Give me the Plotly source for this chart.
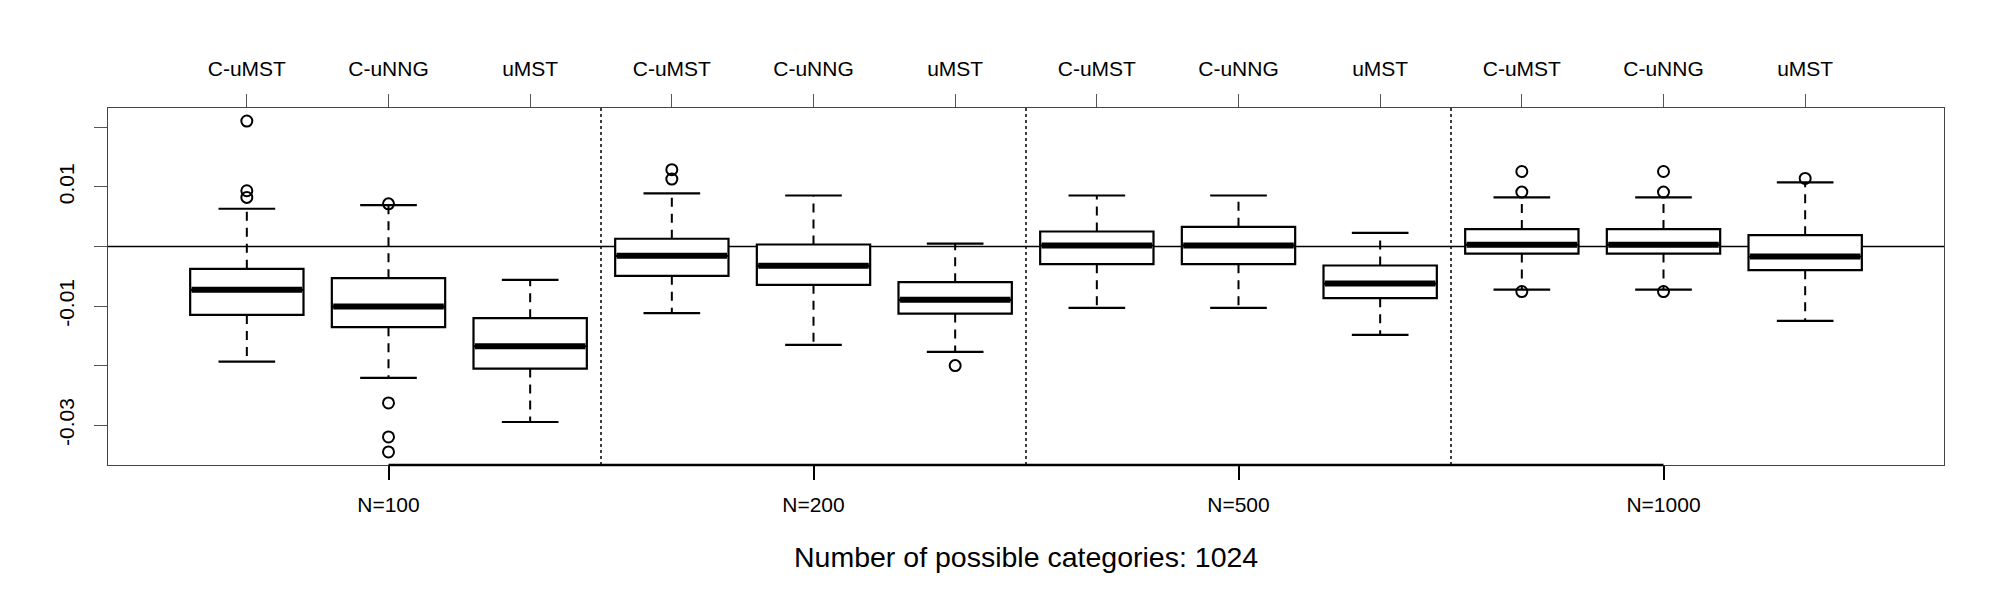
import plotly.graph_objects as go

# ---- data ----
methods = ["C-uMST", "C-uNNG", "uMST"] * 4
groups = ["N=100", "N=200", "N=500", "N=1000"]
positions = list(range(1, 13))
group_centers = [2, 5, 8, 11]
separators = [3.5, 6.5, 9.5]

lower_whisker = [-0.01933, -0.02207, -0.02947,
                 -0.01120, -0.01652, -0.01770,
                 -0.01030, -0.01030, -0.01484,
                 -0.00723, -0.00723, -0.01249]
q1 = [-0.01148, -0.01355, -0.02050,
      -0.00492, -0.00644, -0.01126,
      -0.00297, -0.00297, -0.00868,
      -0.00118, -0.00118, -0.00397]
median = [-0.00728, -0.01008, -0.01675,
          -0.00156, -0.00324, -0.00896,
          0.00017, 0.00017, -0.00622,
          0.00030, 0.00030, -0.00168]
q3 = [-0.00375, -0.00532, -0.01204,
      0.00130, 0.00034, -0.00599,
      0.00252, 0.00331, -0.00319,
      0.00292, 0.00292, 0.00191]
upper_whisker = [0.00634, 0.00695, -0.00560,
                 0.00891, 0.00857, 0.00050,
                 0.00857, 0.00857, 0.00230,
                 0.00826, 0.00826, 0.01076]
outliers = [[0.02107, 0.00936, 0.00824],
            [0.00717, -0.02627, -0.03198, -0.03450],
            [],
            [0.01290, 0.01133],
            [],
            [-0.02000],
            [],
            [],
            [],
            [0.01260, 0.00914, -0.00756],
            [0.01260, 0.00914, -0.00756],
            [0.01143]]

y_ticks = [-0.03, -0.02, -0.01, 0.0, 0.01, 0.02]
y_ticktext = ["-0.03", "", "-0.01", "", "0.01", ""]
title_text = "Number of possible categories: 1024"

# ---- styling ----
FONT = "Liberation Sans, Arial, sans-serif"
BOXW = 0.8
STAPLE = BOXW / 4
XR = [0.02, 12.98]
YR = [-0.03669, 0.02326]

fig = go.Figure()

# whiskers (dashed)
wx, wy = [], []
for p, lo, a, b, hi in zip(positions, lower_whisker, q1, q3, upper_whisker):
    wx += [p, p, None, p, p, None]
    wy += [b, hi, None, a, lo, None]
fig.add_trace(go.Scatter(x=wx, y=wy, mode="lines",
                         line=dict(color="black", width=2, dash="9px,7px"),
                         hoverinfo="skip", showlegend=False))
# staples
sx, sy = [], []
for p, lo, hi in zip(positions, lower_whisker, upper_whisker):
    sx += [p - STAPLE, p + STAPLE, None, p - STAPLE, p + STAPLE, None]
    sy += [hi, hi, None, lo, lo, None]
fig.add_trace(go.Scatter(x=sx, y=sy, mode="lines",
                         line=dict(color="black", width=2.2),
                         hoverinfo="skip", showlegend=False))

# boxes
fig.add_trace(go.Box(x=positions, q1=q1, median=median, q3=q3,
                     lowerfence=q1, upperfence=q3, width=BOXW,
                     fillcolor="white", line=dict(color="black", width=2.2),
                     boxpoints=False, showlegend=False, hoverinfo="skip"))

# thick medians
mx, my = [], []
for p, m in zip(positions, median):
    mx += [p - BOXW / 2 + 0.01, p + BOXW / 2 - 0.01, None]
    my += [m, m, None]
fig.add_trace(go.Scatter(x=mx, y=my, mode="lines",
                         line=dict(color="black", width=6),
                         hoverinfo="skip", showlegend=False))

# outliers
ox, oy = [], []
for p, outs in zip(positions, outliers):
    for v in outs:
        ox.append(p)
        oy.append(v)
fig.add_trace(go.Scatter(x=ox, y=oy, mode="markers",
                         marker=dict(symbol="circle-open", size=11, color="black",
                                     line=dict(width=2, color="black")),
                         hoverinfo="skip", showlegend=False))

# invisible trace to anchor top axis
fig.add_trace(go.Scatter(x=positions, y=median, xaxis="x2", mode="markers",
                         marker=dict(opacity=0), hoverinfo="skip", showlegend=False))

shapes = []
shapes.append(dict(type="line", xref="paper", yref="y", x0=0, x1=1, y0=0, y1=0,
                   line=dict(color="black", width=1.5), layer="below"))
for s in separators:
    shapes.append(dict(type="line", xref="x", yref="paper", x0=s, x1=s, y0=0, y1=1,
                       line=dict(color="black", width=1.5, dash="dot")))
shapes.append(dict(type="line", xref="x", yref="paper",
                   x0=group_centers[0], x1=group_centers[-1], y0=0, y1=0,
                   line=dict(color="black", width=2.5)))

# the page body adds an 8px offset, so margins compensate
fig.update_layout(
    width=2000, height=600,
    margin=dict(l=100, r=64, t=100, b=143, autoexpand=False),
    paper_bgcolor="white", plot_bgcolor="white",
    font=dict(family=FONT, color="black"),
    shapes=shapes,
    xaxis=dict(range=XR, tickmode="array", tickvals=group_centers, ticktext=groups,
               ticks="outside", ticklen=14, tickwidth=2, tickcolor="black",
               tickfont=dict(size=21, family=FONT, color="black"),
               showgrid=False, zeroline=False, showline=True, mirror=True,
               linecolor="#444", linewidth=1, ticklabelstandoff=7, automargin=False),
    xaxis2=dict(range=XR, overlaying="x", side="top", anchor="y",
                tickmode="array", tickvals=positions, ticktext=methods,
                ticks="outside", ticklen=13, tickwidth=1, tickcolor="#555",
                tickfont=dict(size=21, family=FONT, color="black"),
                showgrid=False, zeroline=False, showline=False, ticklabelstandoff=10,
                automargin=False),
    yaxis=dict(range=YR, tickmode="array", tickvals=y_ticks, ticktext=y_ticktext,
               ticks="outside", ticklen=13, tickwidth=1, tickcolor="#555",
               tickangle=-90, tickfont=dict(size=21, family=FONT, color="black"),
               showgrid=False, zeroline=False, showline=True, mirror=True,
               linecolor="#444", linewidth=1, ticklabelstandoff=12, automargin=False),
    annotations=[dict(text=title_text, xref="paper", yref="paper", x=0.5, y=-0.2577,
                      xanchor="center", yanchor="middle", showarrow=False,
                      font=dict(size=28.5, family=FONT, color="black"))],
)

fig.write_html("out.html")
